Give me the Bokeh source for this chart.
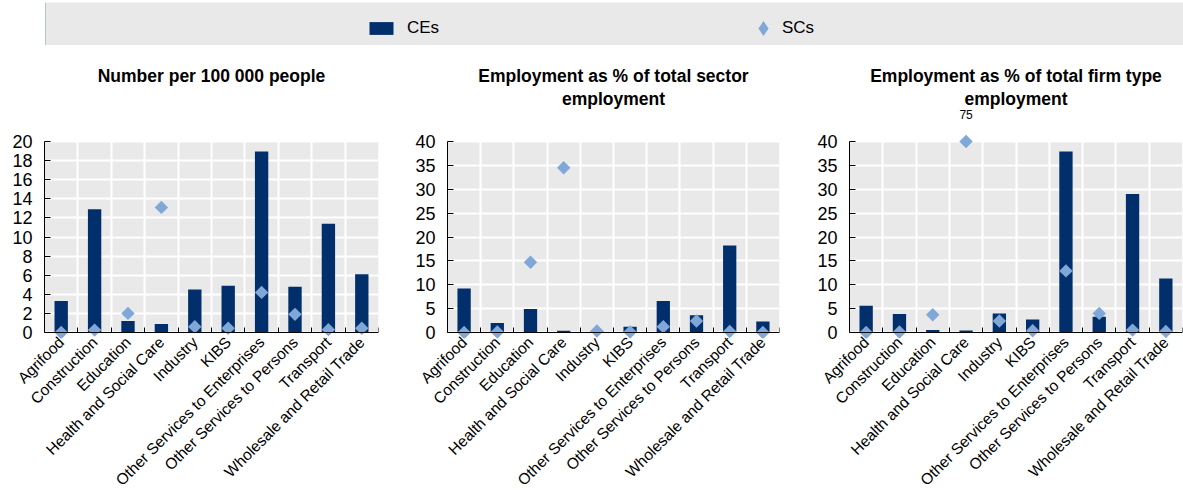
import math
from bokeh.plotting import figure
from bokeh.models import (FixedTicker, BoxAnnotation, Label, Legend, LegendItem, Range1d,
                          LinearAxis, Title)
from bokeh.layouts import column, row
from bokeh.embed import file_html
from bokeh.resources import INLINE

# ---------------- data ----------------
sectors = ["Agrifood", "Construction", "Education", "Health and Social Care", "Industry", "KIBS",
           "Other Services to Enterprises", "Other Services to Persons", "Transport",
           "Wholesale and Retail Trade"]
panel_titles = [["Number per 100 000 people"],
                ["Employment as % of total sector", "employment"],
                ["Employment as % of total firm type", "employment"]]
series_names = ["CEs", "SCs"]

ces_per_100k = [3.3, 12.9, 1.2, 0.9, 4.5, 4.9, 18.95, 4.8, 11.4, 6.1]
scs_per_100k = [0.0, 0.25, 2.0, 13.1, 0.6, 0.45, 4.2, 1.9, 0.3, 0.45]

ces_sector_emp = [9.2, 2.0, 4.9, 0.35, 0.2, 1.2, 6.6, 3.6, 18.2, 2.3]
scs_sector_emp = [0.0, 0.1, 14.7, 34.5, 0.3, 0.1, 1.2, 2.4, 0.2, 0.0]

ces_firm_emp = [5.6, 3.9, 0.5, 0.4, 4.0, 2.7, 37.9, 3.3, 29.0, 11.3]
scs_firm_emp = [0.0, 0.1, 3.7, 75.0, 2.4, 0.35, 12.9, 4.0, 0.5, 0.2]

y_max = [20, 40, 40]
y_step = [2, 5, 5]

# ---------------- style ----------------
COL_CE = "#002F6C"
COL_SC = "#7FA8D9"
BG = "#E9E9E9"
FONT = "Liberation Sans"

PLOT_PX = 191          # pixel height of 0..ymax
TOP_PAD = 33
BOT_PAD = 6
FRAME_H = PLOT_PX + TOP_PAD + BOT_PAD
FIG_H = 453
BORDER_TOP = 63
TITLE_SLOTS = 2


def make_panel(title_lines, ces, scs, ymax, step, fig_w, left, fwidth):
    n = len(sectors)
    top_pad = TOP_PAD * ymax / PLOT_PX
    bot_pad = BOT_PAD * ymax / PLOT_PX
    p = figure(width=fig_w, height=FIG_H, output_backend="svg", toolbar_location=None,
               x_range=Range1d(0, n), y_range=Range1d(-bot_pad, ymax + top_pad),
               min_border_left=left, min_border_right=fig_w - left - fwidth,
               min_border_top=BORDER_TOP, min_border_bottom=FIG_H - BORDER_TOP - FRAME_H,
               background_fill_color="white", border_fill_color="white",
               outline_line_color=None)

    def style_title(t):
        t.align = "center"
        t.text_font = FONT
        t.text_font_size = "17.5px"
        t.text_font_style = "bold"
        t.text_color = "black"

    # every panel gets two title slots so that the first lines line up
    lines = list(title_lines) + [" "] * (TITLE_SLOTS - len(title_lines))
    # p.title is the outermost line; later-added titles sit closer to the frame
    p.title.text = lines[0]
    style_title(p.title)
    p.title.standoff = 1
    for line in lines[1:]:
        t = Title(text=line, standoff=0)
        style_title(t)
        p.add_layout(t, "above")

    p.add_layout(BoxAnnotation(left=0, right=n, bottom=0, top=ymax, fill_color=BG,
                               fill_alpha=1, line_color=None, level="image"))

    centers = [i + 0.5 for i in range(n)]
    bounds = list(range(n + 1))
    yticks = list(range(0, ymax + 1, step))

    p.vbar(x=centers, top=ces, width=0.4, fill_color=COL_CE, line_color=None)
    shown = [min(v, ymax) for v in scs]
    p.scatter(x=centers, y=shown, marker="square", angle=math.pi / 4, size=9.5,
              fill_color=COL_SC, line_color=None)
    for c, v in zip(centers, scs):
        if v > ymax:
            p.add_layout(Label(x=c, y=ymax, text=f"{v:g}", text_align="center",
                               text_baseline="bottom", y_offset=23, text_font=FONT,
                               text_font_size="12px", text_color="black"))

    # grids
    p.xgrid.ticker = FixedTicker(ticks=bounds)
    p.ygrid.ticker = FixedTicker(ticks=yticks)
    for g in (p.xgrid[0], p.ygrid[0]):
        g.grid_line_color = "white"
        g.grid_line_width = 2

    # x axis (labels only, at frame bottom)
    xa = p.xaxis[0]
    xa.ticker = FixedTicker(ticks=centers, minor_ticks=[])
    xa.major_label_overrides = {c: s for c, s in zip(centers, sectors)}
    xa.major_tick_in = 0
    xa.major_tick_out = 0
    xa.minor_tick_line_color = None
    xa.axis_line_color = None
    xa.major_label_orientation = math.pi / 4
    xa.major_label_standoff = 1
    xa.major_label_text_font = FONT
    xa.major_label_text_font_size = "15.5px"
    xa.major_label_text_color = "black"

    # baseline axis at y = 0 with category boundary ticks
    base = LinearAxis(fixed_location=0,
                      ticker=FixedTicker(ticks=[], minor_ticks=bounds),
                      major_tick_in=0, major_tick_out=0,
                      minor_tick_in=5, minor_tick_out=0, minor_tick_line_color="black",
                      major_label_text_font_size="0px", major_label_standoff=0,
                      axis_line_color="black")
    p.add_layout(base, "below")

    # y axis
    ya = p.yaxis[0]
    ya.ticker = FixedTicker(ticks=yticks)
    ya.bounds = (0, ymax)
    ya.major_tick_in = 6
    ya.major_tick_out = 0
    ya.minor_tick_line_color = None
    ya.axis_line_color = "black"
    ya.major_tick_line_color = "black"
    ya.major_label_standoff = 12
    ya.major_label_text_font = FONT
    ya.major_label_text_font_size = "18px"
    ya.major_label_text_color = "black"
    return p


p1 = make_panel(panel_titles[0], ces_per_100k, scs_per_100k, y_max[0], y_step[0], 400, 44, 334)
p2 = make_panel(panel_titles[1], ces_sector_emp, scs_sector_emp, y_max[1], y_step[1], 400, 47, 332)
p3 = make_panel(panel_titles[2], ces_firm_emp, scs_firm_emp, y_max[2], y_step[2], 383, 49, 333)

# ---------------- legend strip ----------------
lf = figure(width=1183, height=45, output_backend="svg", toolbar_location=None,
            x_axis_type=None, y_axis_type=None, min_border_left=45, min_border_right=0,
            min_border_top=2, min_border_bottom=0, background_fill_color=BG,
            border_fill_color="white", outline_line_color=None,
            x_range=Range1d(0, 1), y_range=Range1d(0, 1))
lf.xgrid.visible = False
lf.ygrid.visible = False
# legend-only renderers, placed outside the visible range
r_ce = lf.vbar(x=[-5], top=[1], width=0.4, fill_color=COL_CE, line_color=None)
r_sc = lf.scatter(x=[-5], y=[0.5], marker="diamond", size=10, fill_color=COL_SC, line_color=None)

leg1 = Legend(items=[LegendItem(label=series_names[0], renderers=[r_ce])],
              location=(321, 7), orientation="horizontal", glyph_width=30, glyph_height=16,
              label_standoff=11, padding=0, margin=0, border_line_color=None,
              background_fill_alpha=0, label_text_font=FONT, label_text_font_size="17px",
              label_text_color="black")
leg2 = Legend(items=[LegendItem(label=series_names[1], renderers=[r_sc])],
              location=(699, -2), orientation="horizontal", glyph_width=38, glyph_height=38,
              label_standoff=0, padding=0, margin=0, border_line_color=None,
              background_fill_alpha=0, label_text_font=FONT, label_text_font_size="17px",
              label_text_color="black")
lf.add_layout(leg1, "center")
lf.add_layout(leg2, "center")

layout = column(lf, row(p1, p2, p3))
open("out.html", "w").write(file_html(layout, INLINE))
